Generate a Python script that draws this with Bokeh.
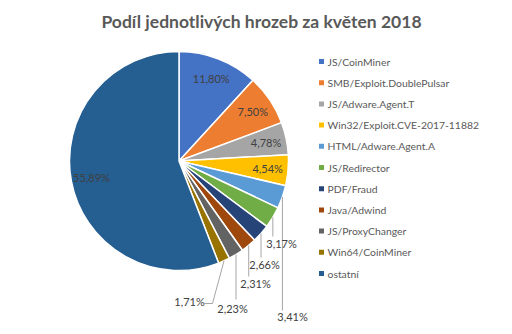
import math
from bokeh.plotting import figure
from bokeh.models import Range1d
from bokeh.core.properties import value
from bokeh.embed import file_html
from bokeh.resources import INLINE

title_text = "Podíl jednotlivých hrozeb za květen 2018"
categories = ["JS/CoinMiner", "SMB/Exploit.DoublePulsar", "JS/Adware.Agent.T",
              "Win32/Exploit.CVE-2017-11882", "HTML/Adware.Agent.A", "JS/Redirector",
              "PDF/Fraud", "Java/Adwind", "JS/ProxyChanger", "Win64/CoinMiner", "ostatní"]
shares = [11.80, 7.50, 4.78, 4.54, 3.41, 3.17, 2.66, 2.31, 2.23, 1.71, 55.89]
colors = ["#4472C4", "#ED7D31", "#A5A5A5", "#FFC000", "#5B9BD5", "#70AD47",
          "#264478", "#9E480E", "#636363", "#997300", "#255E91"]

W, H = 512, 334
FONT = "Lato"

def Y(ypx):
    return H - ypx

p = figure(width=W, height=H, x_range=Range1d(0, W), y_range=Range1d(0, H),
           output_backend="svg", toolbar_location=None, min_border=0,
           x_axis_type=None, y_axis_type=None, tools="")
p.grid.visible = False
p.outline_line_color = None
p.background_fill_color = "white"
p.border_fill_color = "white"

cx, cy, R = 178.5, Y(160.5), 109.5
total = sum(shares)
starts, ends, mids = [], [], []
c = 0.0
for v in shares:
    c0, c1 = c / total, (c + v) / total
    starts.append(math.pi / 2 - 2 * math.pi * c1)
    ends.append(math.pi / 2 - 2 * math.pi * c0)
    mids.append(math.pi / 2 - math.pi * (c0 + c1))
    c += v

p.wedge(x=[cx] * len(shares), y=[cy] * len(shares), radius=R,
        start_angle=starts, end_angle=ends, fill_color=colors,
        line_color="white", line_width=1.5)

labels = [("%.2f" % v).replace(".", ",") + "%" for v in shares]

inside = [0, 1, 2, 3, 10]
rin = 89
p.text(x=[cx + rin * math.cos(mids[i]) for i in inside],
       y=[cy + rin * math.sin(mids[i]) for i in inside],
       text=[labels[i] for i in inside], text_align="center", text_baseline="middle",
       text_font=value(FONT), text_font_size="11px", text_color="#404040")

# outside labels with leader lines (layout in pixel coordinates)
out_pos = {4: (292, 316), 5: (281, 243), 6: (264, 264), 7: (255, 283), 8: (232, 308), 9: (189, 301)}
lead_end = {4: [310], 5: [236], 6: [257], 7: [276], 8: [299]}
xs, ys = [], []
for i in [4, 5, 6, 7, 8, 9]:
    ex = cx + R * math.cos(mids[i])
    ey = cy + R * math.sin(mids[i])
    if i == 9:
        xs.append([ex, 212, 204])
        ys.append([ey, Y(303), Y(303)])
    else:
        xs.append([ex, ex])
        ys.append([ey, Y(lead_end[i][0])])
p.multi_line(xs=xs, ys=ys, line_color="#A6A6A6", line_width=1)
oi = [4, 5, 6, 7, 8, 9]
p.text(x=[out_pos[i][0] for i in oi], y=[Y(out_pos[i][1]) for i in oi],
       text=[labels[i] for i in oi], text_align="center", text_baseline="middle",
       text_font=value(FONT), text_font_size="11px", text_color="#404040")

# legend
ly0, dy = 61, 21.2
ly = [Y(ly0 + k * dy) for k in range(len(categories))]
p.scatter(x=[321] * len(categories), y=ly, marker="square", size=5,
          fill_color=colors, line_color=None)
p.text(x=[327] * len(categories), y=ly, text=categories, text_align="left",
       text_baseline="middle", text_font=value(FONT), text_font_size="10.4px",
       text_color="#595959")

# title
p.text(x=[261], y=[Y(21)], text=[title_text], text_align="center", text_baseline="middle",
       text_font=value(FONT), text_font_size="17.5px", text_font_style="bold",
       text_color="#595959")

open("out.html", "w").write(file_html(p, INLINE))
